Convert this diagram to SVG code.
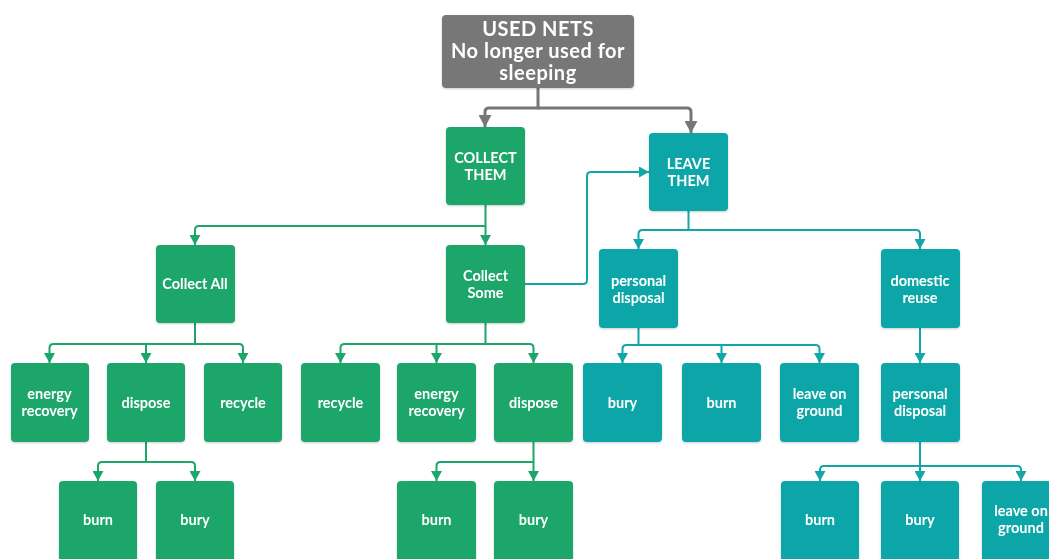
<svg xmlns="http://www.w3.org/2000/svg" width="1049" height="559" viewBox="0 0 1049 559">
<style>
.g{fill:#1ca669}
.t{fill:#11a6a8}
.k{fill:#777777}
text{font-family:Lato,"Open Sans","Liberation Sans",sans-serif;font-weight:bold;fill:#ffffff;text-anchor:middle;font-size:14.5px}
.big{font-size:20px;letter-spacing:0.5px}
.cg{fill:none;stroke:#1ca669;stroke-width:2;marker-end:url(#ag)}
.ct{fill:none;stroke:#11a6a8;stroke-width:2;marker-end:url(#at)}
.ck{fill:none;stroke:#777777;stroke-width:3;marker-end:url(#ak)}
.n{filter:url(#sh)}
</style>
<defs>
<filter id="sh" x="-10%" y="-10%" width="120%" height="120%"><feDropShadow dx="0" dy="1" stdDeviation="1" flood-color="#000" flood-opacity="0.2"/></filter>
<marker id="ag" markerUnits="userSpaceOnUse" markerWidth="11" markerHeight="11" refX="10" refY="5.5" orient="auto"><path d="M0,0 L10,5.5 L0,11 z" fill="#1ca669"/></marker>
<marker id="at" markerUnits="userSpaceOnUse" markerWidth="11" markerHeight="11" refX="10" refY="5.5" orient="auto"><path d="M0,0 L10,5.5 L0,11 z" fill="#11a6a8"/></marker>
<marker id="ak" markerUnits="userSpaceOnUse" markerWidth="13" markerHeight="13" refX="12" refY="6.5" orient="auto"><path d="M0,0 L12,6.5 L0,13 z" fill="#777777"/></marker>
</defs>
<g id="connectors">
<path class="ck" d="M538,88 V108 H489 Q485,108 485,112 V127"/>
<path class="ck" d="M538,108 H687 Q691,108 691,112 V133"/>
<path class="cg" d="M485.5,205 V226 H199 Q195,226 195,230 V245"/>
<path class="cg" d="M485.5,226 V245"/>
<path class="cg" d="M195,323 V344 H53.5 Q49.5,344 49.5,348 V363"/>
<path class="cg" d="M195,344 H239 Q243,344 243,348 V363"/>
<path class="cg" d="M146,344 V363"/>
<path class="cg" d="M146,442 V462 H102 Q98,462 98,466 V481"/>
<path class="cg" d="M146,462 H191 Q195,462 195,466 V481"/>
<path class="cg" d="M485.5,323 V344 H344.5 Q340.5,344 340.5,348 V363"/>
<path class="cg" d="M485.5,344 H529.5 Q533.5,344 533.5,348 V363"/>
<path class="cg" d="M436.5,344 V363"/>
<path class="cg" d="M533.5,442 V462 H440.5 Q436.5,462 436.5,466 V481"/>
<path class="cg" d="M533.5,462 V481"/>
<path class="ct" d="M525,284 H583 Q587,284 587,280 V176 Q587,172 591,172 H649"/>
<path class="ct" d="M688.5,211 V230 H642.5 Q638.5,230 638.5,234 V249"/>
<path class="ct" d="M688.5,230 H916 Q920,230 920,234 V249"/>
<path class="ct" d="M638.5,328 V345 H626.5 Q622.5,345 622.5,349 V363"/>
<path class="ct" d="M638.5,345 H815.5 Q819.5,345 819.5,349 V363"/>
<path class="ct" d="M721.5,345 V363"/>
<path class="ct" d="M920,328 V363"/>
<path class="ct" d="M920,442 V466 H824 Q820,466 820,470 V481"/>
<path class="ct" d="M920,466 H1017 Q1021,466 1021,470 V481"/>
<path class="ct" d="M920,466 V481"/>
</g>
<g id="used-nets" class="n"><rect class="k" x="442" y="15" width="192" height="73" rx="4"/><text class="big" x="538" y="36">USED NETS</text><text class="big" x="538" y="58">No longer used for</text><text class="big" x="538" y="80">sleeping</text></g>
<g id="collect-them" class="n"><rect class="g" x="446" y="127" width="79" height="78" rx="4"/><text x="485.5" y="163">COLLECT</text><text x="485.5" y="180">THEM</text></g>
<g id="leave-them" class="n"><rect class="t" x="649" y="133" width="79" height="78" rx="4"/><text x="688.5" y="169">LEAVE</text><text x="688.5" y="186">THEM</text></g>
<g id="collect-all" class="n"><rect class="g" x="156" y="245" width="79" height="78" rx="4"/><text x="195" y="289">Collect All</text></g>
<g id="collect-some" class="n"><rect class="g" x="446" y="245" width="79" height="78" rx="4"/><text x="485.5" y="281">Collect</text><text x="485.5" y="298">Some</text></g>
<g id="personal-disposal-1" class="n"><rect class="t" x="599" y="249" width="79" height="79" rx="4"/><text x="638.5" y="286">personal</text><text x="638.5" y="303">disposal</text></g>
<g id="domestic-reuse" class="n"><rect class="t" x="881" y="249" width="79" height="79" rx="4"/><text x="920" y="286">domestic</text><text x="920" y="303">reuse</text></g>
<g id="energy-recovery-1" class="n"><rect class="g" x="11" y="363" width="78" height="79" rx="4"/><text x="49.5" y="399">energy</text><text x="49.5" y="416">recovery</text></g>
<g id="dispose-1" class="n"><rect class="g" x="107" y="363" width="78" height="79" rx="4"/><text x="146" y="408">dispose</text></g>
<g id="recycle-1" class="n"><rect class="g" x="204" y="363" width="78" height="79" rx="4"/><text x="243" y="408">recycle</text></g>
<g id="recycle-2" class="n"><rect class="g" x="301" y="363" width="79" height="79" rx="4"/><text x="340.5" y="408">recycle</text></g>
<g id="energy-recovery-2" class="n"><rect class="g" x="397" y="363" width="79" height="79" rx="4"/><text x="436.5" y="399">energy</text><text x="436.5" y="416">recovery</text></g>
<g id="dispose-2" class="n"><rect class="g" x="494" y="363" width="79" height="79" rx="4"/><text x="533.5" y="408">dispose</text></g>
<g id="bury-1" class="n"><rect class="t" x="583" y="363" width="79" height="79" rx="4"/><text x="622.5" y="408">bury</text></g>
<g id="burn-1" class="n"><rect class="t" x="682" y="363" width="79" height="79" rx="4"/><text x="721.5" y="408">burn</text></g>
<g id="leave-on-ground-1" class="n"><rect class="t" x="780" y="363" width="79" height="79" rx="4"/><text x="819.5" y="399">leave on</text><text x="819.5" y="416">ground</text></g>
<g id="personal-disposal-2" class="n"><rect class="t" x="881" y="363" width="79" height="79" rx="4"/><text x="920" y="399">personal</text><text x="920" y="416">disposal</text></g>
<g id="burn-2" class="n"><rect class="g" x="59" y="481" width="78" height="82" rx="4"/><text x="98" y="525">burn</text></g>
<g id="bury-2" class="n"><rect class="g" x="156" y="481" width="78" height="82" rx="4"/><text x="195" y="525">bury</text></g>
<g id="burn-3" class="n"><rect class="g" x="397" y="481" width="79" height="82" rx="4"/><text x="436.5" y="525">burn</text></g>
<g id="bury-3" class="n"><rect class="g" x="494" y="481" width="79" height="82" rx="4"/><text x="533.5" y="525">bury</text></g>
<g id="burn-4" class="n"><rect class="t" x="781" y="481" width="78" height="82" rx="4"/><text x="820" y="525">burn</text></g>
<g id="bury-4" class="n"><rect class="t" x="881" y="481" width="78" height="82" rx="4"/><text x="920" y="525">bury</text></g>
<g id="leave-on-ground-2" class="n"><rect class="t" x="982" y="481" width="78" height="82" rx="4"/><text x="1021" y="516">leave on</text><text x="1021" y="533">ground</text></g>
</svg>
